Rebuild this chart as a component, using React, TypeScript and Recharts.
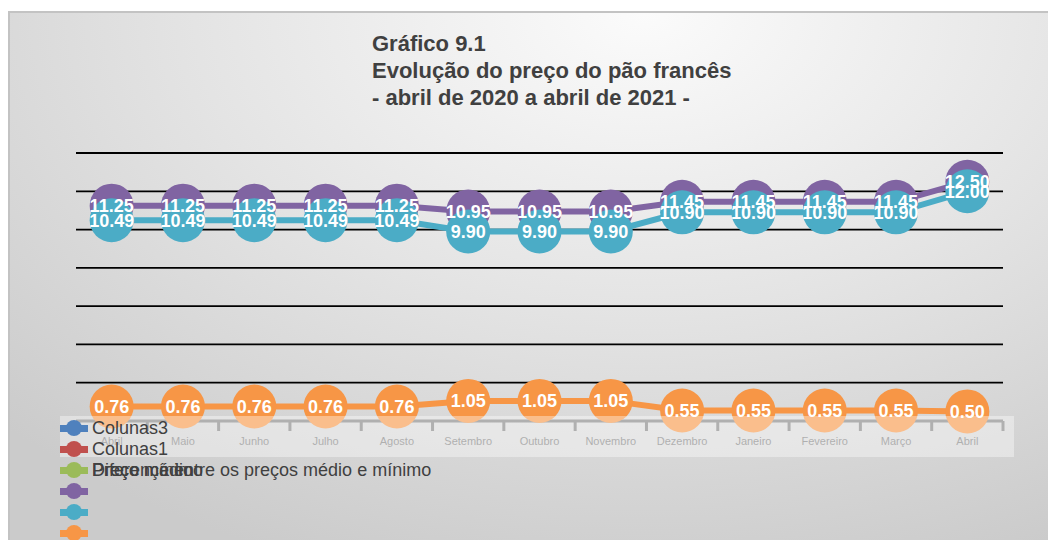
import React from 'react';
import { LineChart, Line, XAxis, YAxis, ReferenceLine, LabelList } from 'recharts';

const months = [
  'Abril', 'Maio', 'Junho', 'Julho', 'Agosto', 'Setembro', 'Outubro',
  'Novembro', 'Dezembro', 'Janeiro', 'Fevereiro', 'Março', 'Abril',
];
const precoMedio = [11.25, 11.25, 11.25, 11.25, 11.25, 10.95, 10.95, 10.95, 11.45, 11.45, 11.45, 11.45, 12.5];
const precoMinimo = [10.49, 10.49, 10.49, 10.49, 10.49, 9.9, 9.9, 9.9, 10.9, 10.9, 10.9, 10.9, 12.0];
const diferenca = [0.76, 0.76, 0.76, 0.76, 0.76, 1.05, 1.05, 1.05, 0.55, 0.55, 0.55, 0.55, 0.5];
const yTicks = [0, 2, 4, 6, 8, 10, 12, 14];

const legendRows = [
  { color: '#4F81BD', labels: ['Colunas3'] },
  { color: '#C0504D', labels: ['Colunas1'] },
  { color: '#9BBB59', labels: ['Diferença entre os preços médio e mínimo', 'Preço médio', 'Preço mínimo'] },
  { color: '#8064A2', labels: [] },
  { color: '#4BACC6', labels: [] },
  { color: '#F79646', labels: [] },
];

const data = months.map((m, i) => ({
  month: m,
  medio: precoMedio[i],
  minimo: precoMinimo[i],
  dif: diferenca[i],
}));

const FONT = '"Liberation Sans", Arial, sans-serif';
const PLOT_W = 927;
const HALF = PLOT_W / months.length / 2;

const ValueLabel = (props: any) => {
  const { x, y, value } = props;
  return (
    <text x={x} y={y} dy="0.36em" textAnchor="middle" fill="#fff" fontSize={18} fontWeight="bold" fontFamily={FONT}>
      {Number(value).toFixed(2)}
    </text>
  );
};

const MonthTick = (props: any) => {
  const { x, y, payload, index } = props;
  const top = y - 8;
  return (
    <g>
      <line x1={x - HALF} x2={x - HALF} y1={top} y2={top + 10} stroke="#808080" strokeWidth={3} />
      {index === months.length - 1 && (
        <line x1={x + HALF} x2={x + HALF} y1={top} y2={top + 10} stroke="#808080" strokeWidth={3} />
      )}
      <text x={x} y={y + 16} textAnchor="middle" fontSize={11} fill="#7f7f7f" fontFamily={FONT}>
        {payload.value}
      </text>
    </g>
  );
};

const App = () => {
  return (
    <div style={{ position: 'relative', width: 1048, height: 532, fontFamily: FONT, overflow: 'hidden' }}>
      <div
        style={{
          position: 'absolute',
          left: 0,
          top: 3,
          width: 1060,
          height: 540,
          border: '2px solid #c3c3c3',
          boxSizing: 'border-box',
          background: 'radial-gradient(ellipse 85% 110% at 60% 0%, #fbfbfb 0%, #e4e4e4 50%, #cbcbcb 100%)',
        }}
      />
      <div
        style={{
          position: 'absolute',
          left: 364,
          top: 22,
          fontSize: 22,
          lineHeight: '27px',
          fontWeight: 'bold',
          color: '#404040',
        }}
      >
        <div>Gráfico 9.1</div>
        <div>Evolução do preço do pão francês</div>
        <div>- abril de 2020 a abril de 2021 -</div>
      </div>
      <div style={{ position: 'absolute', left: 0, top: 0 }}>
        <LineChart width={1040} height={532} data={data} margin={{ top: 145, right: 45, left: 68, bottom: 89 }}>
          <XAxis
            dataKey="month"
            height={30}
            padding={{ left: HALF, right: HALF }}
            axisLine={{ stroke: '#808080', strokeWidth: 3 }}
            tickLine={false}
            tick={<MonthTick />}
            interval={0}
          />
          <YAxis domain={[0, 14]} ticks={yTicks} width={0} tick={false} axisLine={false} tickLine={false} />
          {yTicks.filter((v) => v > 0).map((v) => (
            <ReferenceLine key={v} y={v} stroke="#000" strokeWidth={1.8} />
          ))}
          <Line
            dataKey="medio"
            stroke="#8064A2"
            strokeWidth={6}
            dot={{ r: 22, fill: '#8064A2', stroke: 'none', strokeWidth: 0 }}
            activeDot={false}
            isAnimationActive={false}
          >
            <LabelList dataKey="medio" content={<ValueLabel />} />
          </Line>
          <Line
            dataKey="minimo"
            stroke="#4BACC6"
            strokeWidth={6}
            dot={{ r: 22, fill: '#4BACC6', stroke: 'none', strokeWidth: 0 }}
            activeDot={false}
            isAnimationActive={false}
          >
            <LabelList dataKey="minimo" content={<ValueLabel />} />
          </Line>
          <Line
            dataKey="dif"
            stroke="#F79646"
            strokeWidth={6}
            dot={{ r: 22, fill: '#F79646', stroke: 'none', strokeWidth: 0 }}
            activeDot={false}
            isAnimationActive={false}
          >
            <LabelList dataKey="dif" content={<ValueLabel />} />
          </Line>
        </LineChart>
      </div>
      <div
        style={{
          position: 'absolute',
          left: 52,
          top: 408,
          width: 954,
          height: 41,
          background: 'rgba(255,255,255,0.38)',
        }}
      />
      {legendRows.map((row, i) => (
        <div key={i} style={{ position: 'absolute', left: 52, top: 410 + i * 21, height: 20, width: 600 }}>
          <div style={{ position: 'absolute', left: 0, top: 7, width: 28, height: 7, background: row.color }} />
          <div style={{ position: 'absolute', left: 6, top: 2, width: 16, height: 16, borderRadius: 8, background: row.color }} />
          {row.labels.map((t, j) => (
            <div
              key={j}
              style={{ position: 'absolute', left: 32, top: -1, fontSize: 18, lineHeight: '22px', color: '#404040', whiteSpace: 'nowrap' }}
            >
              {t}
            </div>
          ))}
        </div>
      ))}
    </div>
  );
};

export default App;
